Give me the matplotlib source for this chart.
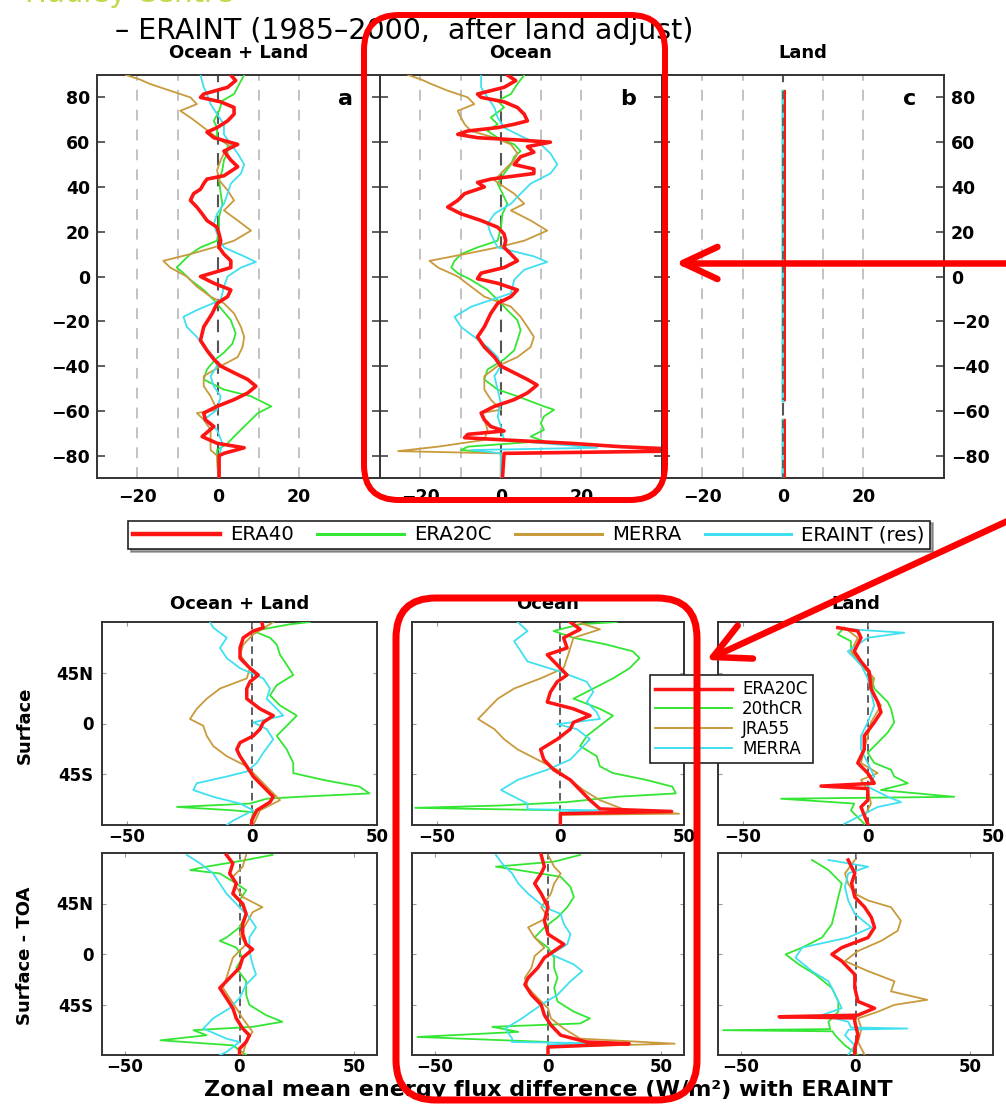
import numpy as np
import matplotlib
matplotlib.use("Agg")
import matplotlib.pyplot as plt
from matplotlib.lines import Line2D
from matplotlib.patches import FancyBboxPatch
from matplotlib.transforms import IdentityTransform

plt.rcParams['font.family'] = ['DejaVu Sans']

# ---------------- data: top row (ERA40, ERA20C, MERRA, ERAINT(res)) ----------------
TOP_XTICKS = [-20, 0, 20]
TOP_YTICKS = [-80, -60, -40, -20, 0, 20, 40, 60, 80]
TOP_GRID = [-20, -10, 10, 20]
TOP_LEGEND = ['ERA40', 'ERA20C', 'MERRA', 'ERAINT (res)']
TOP_TITLES = ['Ocean + Land', 'Ocean', 'Land']
PANEL_LETTERS = ['a', 'b', 'c']

A_ERA40_LAT = [90, 87.5, 84.5, 81.5, 80, 78, 75.5, 72.5, 69.5, 66.5, 64.5, 62, 59, 56, 52, 49, 45, 43.5, 41.5, 39,
               37, 34, 31, 28, 25, 22, 19, 16, 13, 10, 7, 4, 0, -3, -6, -9, -12, -16.5, -22.5, -28.5,
               -33, -37, -40, -43, -46, -49, -52, -55, -58, -61, -64, -67, -71.5, -74.5, -76.5, -79, -80, -90]
A_ERA40 = [3.1, 4.3, 2.3, -3.6, -4.4, 0.6, 3.9, 3.9, 2.3, -0.3, -2.8, -1.1, 4.8, 1.4, 3.1, 4.8, 1.4, -2.8, -3.6, -4.4,
           -6.1, -6.9, -5.3, -4.0, -2.8, -0.3, 0.2, 0.6, 0.2, 1.4, 3.1, 3.1, -4.4, -1.1, 3.1, 2.3, -0.3, -1.5, -3.6, -4.4,
           -2.8, -1.1, 0.6, 3.9, 7.3, 9.3, 7.3, 3.9, -0.3, -3.6, -3.2, -1.1, -4.0, -0.3, 6.4, 1.4, 0.2, 0.2]
A_ERA20C_LAT = [90, 86, 81.5, 78.5, 74, 69.5, 66.5, 62, 59, 55, 52, 47.5, 43, 37, 32.5, 26.5, 22, 16, 13, 10,
                7, 4, 1.5, -1.5, -6, -10.5, -15, -19.5, -25.5, -30, -34, -37, -41.5, -46, -50.5, -53.5, -58, -61, -64, -67,
                -71.5, -74.5, -77.5, -80, -90]
A_ERA20C = [6.4, 5.2, 3.9, 1.0, 0.2, -1.1, -0.3, -0.3, 2.3, 2.3, 1.4, 1.0, 0.2, 0.6, 1.0, 0.2, 0.2, -0.3, -4.4, -6.9,
            -8.6, -10.3, -8.6, -6.9, -3.6, -1.1, 1.0, 3.1, 4.3, 3.5, 1.4, -0.7, -2.8, -3.6, 1.4, 8.1, 13.1, 9.8, 8.1, 6.4,
            3.9, 2.3, -0.3, -0.3, 0.0]
A_MERRA_LAT = [90, 88, 86, 83, 80, 77, 74, 71, 66.5, 62, 58, 55, 52, 47.5, 43, 38.5, 34, 29.5, 25, 20.5,
               16, 13, 10, 7, 4, 0, -4.5, -9, -12, -16.5, -22.5, -27, -31.5, -36, -40, -44.5, -49, -53.5, -59.5, -61,
               -64, -68.5, -74.5, -77.5, -80, -90]
A_MERRA = [-22.8, -19.4, -16.9, -11.9, -6.9, -5.3, -9.4, -6.9, -3.6, -0.3, 3.1, 1.4, 0.6, -0.3, 0.2, 2.3, 3.9, 1.4, 4.8, 8.1,
           3.9, -1.1, -6.9, -13.6, -11.9, -7.8, -5.3, -1.9, 1.4, 3.9, 5.6, 6.4, 6.0, 4.8, 0.6, -3.6, -3.6, -1.9, -0.3, -5.3,
           -3.6, -1.9, -1.9, -1.9, -0.3, 0.0]
A_ERAINT_LAT = [90, 84.5, 81.5, 77, 72.5, 68, 63.5, 59, 55, 50, 46, 41.5, 37, 32.5, 28, 23.5, 19, 13, 9, 6.5,
                4, 0, -4.5, -10.5, -15, -18, -22.5, -27, -31.5, -36, -40, -44.5, -49, -53.5, -59.5, -64, -68.5, -74.5,
                -77.5, -80, -90]
A_ERAINT = [-4.4, -3.6, -2.8, -1.9, -0.3, 1.4, 1.4, 3.1, 4.8, 6.4, 5.6, 3.1, 2.3, 1.4, -0.3, -1.1, -0.3, 1.4, 6.4, 9.3,
            5.6, 2.3, 1.4, 0.6, -5.3, -8.6, -7.8, -5.3, -3.6, -1.1, -0.3, -1.9, -1.1, 0.6, -0.3, -3.6, -0.3, 1.0,
            0.6, 0.2, 0.0]

B_ERA40_LAT = [90, 87.5, 84.5, 81.5, 80, 78, 75.5, 72.5, 69.5, 68, 66.5, 65, 63.5, 62, 61, 60, 58, 55.5, 53.5, 50,
               48, 46, 43.5, 42, 40, 37, 34, 31, 28, 25, 22, 19, 16, 13, 10, 7, 4, 1.5, -1, -3,
               -6, -9, -12, -16.5, -22.5, -27, -31.5, -36, -40, -43, -46, -48.5, -52, -55, -58, -61, -64, -67, -69, -70.5,
               -72, -73, -74.5, -76, -77, -78, -79, -90]
B_ERA40 = [1.6, 3.7, 0.8, -5.8, -4.9, 0.8, 4.1, 5.8, 6.6, 3.3, -0.8, -8.2, -10.7, -5.8, 4.1, 12.3, 6.6, 8.2, 4.9, 3.3,
           8.2, 8.2, -2.5, -5.8, -4.1, -9.0, -10.7, -13.2, -9.9, -4.9, -0.8, 0.8, 1.2, 0.8, 2.5, 4.1, 0.8, -4.9, -5.8, -0.8,
           4.1, 2.5, -0.8, -2.5, -4.1, -5.8, -4.1, -1.6, 0.0, 3.3, 6.6, 9.0, 6.6, 3.3, -1.6, -4.9, -4.1, -2.5, 0.8, -8.2,
           -9.0, 0.8, 17.3, 29.6, 42.0, 42.0, 0.8, 0.4]
B_ERA20C_LAT = [90, 86, 81.5, 78.5, 75.5, 71, 68, 65, 62, 59, 56, 53.5, 50, 46, 41.5, 37, 32.5, 28, 22, 16,
                13, 10, 7, 4, 1.5, -1.5, -6, -10.5, -15, -19.5, -24, -28.5, -33, -37, -41.5, -46, -50.5, -53.5, -58, -59.5,
                -62.5, -65.5, -68.5, -71.5, -73.5, -76, -77.5, -79, -90]
B_ERA20C = [5.8, 4.1, 2.5, -0.8, 0.8, -2.5, -0.8, -3.3, -0.8, 3.3, 4.9, 3.3, 2.5, 0.8, -0.8, 0.4, 1.6, 0.4, 0.0, -0.8,
            -5.8, -9.9, -11.5, -12.3, -10.7, -7.4, -3.3, -0.8, 1.6, 4.1, 4.9, 4.1, 3.3, 0.8, -3.3, -4.1, -0.8, 4.1, 10.7, 13.2,
            10.7, 9.9, 10.7, 7.4, 10.7, -8.2, -9.9, 0.0, 0.0]
B_MERRA_LAT = [90, 88, 86, 83, 80, 77, 74, 71, 68, 65, 62, 59, 55, 52, 47.5, 43, 40, 37, 32.5, 29.5,
               25, 20.5, 16, 13, 10, 7, 4, 0, -4.5, -9, -13.5, -18, -22.5, -27, -31.5, -36, -40, -44.5, -50.5, -55,
               -59.5, -61, -64, -68.5, -73, -76, -78, -79, -90]
B_MERRA = [-23.0, -19.8, -17.3, -13.2, -8.2, -6.6, -10.7, -9.9, -9.0, -7.4, -1.6, 2.5, 4.1, 3.3, 0.8, -1.6, 0.8, 3.3, 5.8, 2.5,
           7.4, 11.5, 5.8, -0.8, -9.0, -17.7, -15.6, -10.7, -7.4, -4.1, 2.5, 4.9, 6.6, 8.2, 7.4, 4.1, -0.8, -4.1, -4.1, -2.5,
           0.0, -4.9, -4.1, -3.3, -4.1, -15.6, -25.5, 0.0, 0.0]
B_ERAINT_LAT = [90, 84.5, 80, 75.5, 71, 66.5, 62, 59, 55, 50, 46, 41.5, 37, 32.5, 28, 23.5, 19, 13, 9, 6.5,
                3, -1.5, -7.5, -13.5, -18, -22.5, -27, -31.5, -36, -40, -44.5, -50.5, -56.5, -62.5, -67, -73, -76.5,
                -77.5, -79, -90]
B_ERAINT = [-4.9, -4.9, -3.3, -1.6, -0.8, 0.8, 5.8, 9.9, 12.3, 14.0, 12.3, 7.4, 4.9, 2.5, -1.6, -3.3, -2.5, -0.8, 8.2, 11.5,
            5.8, 3.3, 2.5, -7.4, -11.5, -9.9, -6.6, -3.3, -0.8, 0.0, -1.6, -0.8, 0.0, -0.8, 0.0, 0.8, 23.9,
            -7.4, 0.0, 0.0]

C_LAT = [83, -55, np.nan, -64, -90]
C_ERA40 = [0.5, 0.5, np.nan, 0.5, 0.5]
C_ERA20C = [0.0, 0.0, np.nan, 0.0, 0.0]
C_MERRA = [0.0, 0.0, np.nan, 0.0, 0.0]
C_ERAINT = [0.0, 0.0, np.nan, 0.0, 0.0]

# ---------------- data: bottom rows (ERA20C, 20thCR, JRA55, MERRA) ----------------
BOT_LEGEND = ['ERA20C', '20thCR', 'JRA55', 'MERRA']
BOT_TITLES = ['Ocean + Land', 'Ocean', 'Land']
ROW_LABELS = ['Surface', 'Surface - TOA']
BOT_XTICKS = [-50, 0, 50]
BOT_YTICKS = [45, 0, -45]
BOT_YTICKLABELS = ['45N', '0', '45S']

S1_ERA20C_LAT = [90, 85, 82, 76, 67, 58, 49, 43, 37, 31, 22, 13, 7, 1, -5, -11, -17, -23, -29, -38, -47, -56, -65, -69.7, -77, -86, -90]
S1_ERA20C = [3.9, 4.5, 0.5, -3.5, -4.8, -4.8, -0.8, 2.5, -0.8, -2.1, -2.1, 3.2, 8.5, 4.5, 3.2, 0.5, -4.8, -6.1, -4.8, -2.1, 0.5, 4.5, 8.5, 7.2, 1.9, -0.1, -0.1]
S1_CR20_LAT = [90, 88, 82, 76, 70, 61, 52, 43, 34, 25, 16, 7, -2, -11, -23, -35, -44, -50, -56, -62, -65, -66.7, -71, -74, -77, -78.7, -90]
S1_CR20 = [23.2, 15.2, 0.5, 7.2, 9.9, 11.2, 13.9, 16.5, 9.9, 7.2, 11.2, 17.9, 13.9, 9.9, 13.9, 16.5, 16.5, 28.5, 43.0, 47.0, 19.0, 5.9, -0.8, -30.0, -7.5, 0.5, -0.8]
S1_JRA55_LAT = [90, 88, 79, 70, 61, 49, 40, 31, 22, 13, 4, -2, -11, -20, -29, -38, -47, -59, -68, -77, -90]
S1_JRA55 = [8.5, 7.2, 0.5, -3.5, -4.8, -0.8, -2.1, -12.8, -18.1, -22.1, -24.8, -19.5, -18.1, -15.5, -10.1, -2.1, 1.9, 7.2, 11.2, 3.2, 0.5]
S1_MERRA_LAT = [90, 85, 76, 67, 58, 49, 40, 31, 22, 13, 7, 1, -5, -14, -26, -35, -42.6, -47, -53, -59, -65, -71, -77, -86, -90]
S1_MERRA = [-16.8, -15.5, -10.1, -12.8, -10.1, -4.8, 4.5, 7.2, 5.9, 9.9, 12.5, 0.5, 5.9, 8.5, 4.5, 1.9, -2.1, -10.1, -22.1, -23.5, -15.5, -4.8, 0.5, -7.5, -10.1]

S2_ERA20C_LAT = [90, 83.5, 76, 67, 61, 52, 43, 37, 28, 19, 13, 7, 1, -5, -14, -23, -32, -41, -50, -59, -68, -75.7, -78, -80, -90]
S2_ERA20C = [4.0, 8.0, 1.3, 2.7, -5.3, -1.3, 2.7, -1.3, -4.0, -5.3, 5.3, 12.0, 5.3, 4.0, -1.3, -8.0, -6.7, -2.7, 4.0, 8.0, 12.0, 16.0, 45.0, 0.0, 0.0]
S2_CR20_LAT = [90, 88, 82, 76, 70, 64, 58, 49, 40, 31, 22, 13, 7, -2, -11, -20, -29, -38, -44, -50, -56, -62, -65, -69.7, -72.7, -74.8, -77, -90]
S2_CR20 = [22.7, 8.0, -2.7, 5.3, 18.7, 29.3, 32.0, 28.0, 21.3, 13.3, 5.3, 16.0, 21.3, 16.0, 10.7, 8.0, 14.7, 16.0, 21.3, 34.7, 45.3, 46.7, 22.7, 2.7, -24.0, -58.7, 0.0, 0.0]
S2_JRA55_LAT = [90, 83.5, 76, 67, 58, 49, 40, 31, 22, 13, 4, -5, -14, -23, -32, -41, -50, -59, -68, -77, -80, -81, -90]
S2_JRA55 = [6.7, 16.0, 5.3, 4.0, 2.7, 1.3, -8.0, -18.7, -25.3, -29.3, -33.3, -26.7, -22.7, -17.3, -9.3, -1.3, 4.0, 9.3, 16.0, 26.7, 48.0, 0.0, 0.0]
S2_MERRA_LAT = [90, 82, 73, 64, 55, 46, 37, 28, 19, 10, 4, -0.6, -5, -14, -23, -32, -41, -50, -59, -65, -71, -76, -77, -78.7, -90]
S2_MERRA = [-17.3, -13.3, -18.7, -16.0, -13.3, 0.0, 10.7, 13.3, 10.7, 14.7, 16.0, -1.3, 6.7, 12.0, 8.0, 4.0, -5.3, -17.3, -24.0, -18.7, -13.3, -13.3, 16.0, 0.0, 0.0]

S3_ERA20C_LAT = [85, 82, 76, 64, 55, 46, 31, 19, 10, 1, -11, -23, -35, -44, -53, -55.5, -57.7, -68, -74, -89]
S3_ERA20C = [-12.1, -4.1, -2.8, -5.5, -2.8, 0.5, 1.2, 3.9, 5.2, 2.5, -1.5, -1.5, -4.1, -0.1, 2.5, -18.8, -0.1, -0.1, -2.8, -0.1]
S3_CR20_LAT = [85, 79, 73, 64, 55, 43, 31, 19, 13, 1, -8, -17, -26, -35, -41, -47, -53, -59, -65, -66.7, -71, -77, -89]
S3_CR20 = [-9.5, -12.1, -6.8, -6.8, -4.1, 1.2, 2.5, 7.9, 9.2, 10.5, 7.9, 3.9, -0.1, 2.5, 9.2, 10.5, 15.9, 5.2, 34.5, -34.8, -5.5, -6.8, -1.5]
S3_JRA55_LAT = [85, 76, 64, 52, 40, 28, 16, 1, -11, -23, -35, -44, -50, -59, -71, -83, -89]
S3_JRA55 = [-9.5, -4.1, -6.8, -2.8, 2.5, 1.2, 5.2, 1.2, -0.1, -1.5, -2.8, 3.9, -2.8, -0.1, 1.2, -1.5, -0.1]
S3_MERRA_LAT = [83.5, 80.5, 76, 64, 52, 40, 28, 16, 1, -11, -23, -35, -47, -56, -65, -69.7, -74, -83, -89]
S3_MERRA = [-6.8, 14.5, -0.1, -8.1, -2.8, -0.1, 1.2, 2.5, -0.1, -2.8, -2.8, -0.1, 2.5, -0.1, 7.9, 13.2, 3.9, -4.1, -9.5]

T1_ERA20C_LAT = [88.3, 80.8, 71.8, 62.8, 53.8, 44.7, 35.7, 26.7, 17.7, 8.7, 4.2, -3.3, -12.3, -21.3, -30.3, -39.3, -48.3, -57.4, -66.4, -72.4, -78.4, -84.4, -90]
T1_ERA20C = [-5.7, -2.9, -4.3, -1.4, -2.9, 1.4, 2.9, 1.4, 1.4, 2.9, 5.7, 1.4, 0.0, -4.3, -8.6, -5.7, -2.9, -1.4, 1.4, 4.3, 2.9, 0.0, 0.0]
T1_CR20_LAT = [88.3, 83.8, 77.8, 74.8, 71.8, 62.8, 56.8, 47.7, 35.7, 23.7, 14.7, 11.7, 5.7, -3.3, -12.3, -24.3, -36.3, -45.3, -54.4, -60.4, -64.9, -67.9, -72.4, -76.9, -81.4, -90]
T1_CR20 = [14.4, 2.9, -14.4, -21.5, -8.6, -1.4, 2.9, 0.0, 2.9, 0.0, -5.7, -8.6, -1.4, 1.4, -1.4, 2.9, 2.9, 4.3, 11.5, 18.7, 5.7, -20.1, -14.4, -34.5, -2.9, 2.9]
T1_JRA55_LAT = [88.3, 77.8, 68.8, 59.8, 50.8, 41.7, 37.2, 26.7, 17.7, 8.7, -3.3, -12.3, -21.3, -30.3, -39.3, -48.3, -57.4, -69.4, -78.4, -90]
T1_JRA55 = [2.9, 1.4, -2.9, -1.4, 1.4, 10.0, 5.7, 2.9, 0.0, 2.9, -2.9, -4.3, -5.7, -7.2, -4.3, -1.4, 1.4, 5.7, 2.9, 1.4]
T1_MERRA_LAT = [88.3, 80.8, 71.8, 62.8, 53.8, 41.7, 32.7, 23.7, 14.7, 2.7, -9.3, -18.3, -27.3, -39.3, -48.3, -57.4, -66.4, -75.4, -78.4, -87.4, -90]
T1_MERRA = [-23.0, -17.2, -11.5, -8.6, -5.7, 0.0, 4.3, 7.2, 4.3, 4.3, 5.7, 7.2, 2.9, 0.0, -4.3, -11.5, -15.8, -5.7, 0.0, -5.7, -8.6]

T2_ERA20C_LAT = [88.3, 77.8, 71.8, 62.8, 53.8, 41.7, 29.7, 17.7, 8.7, 2.7, -3.3, -12.3, -21.3, -27.3, -36.3, -45.3, -54.4, -63.4, -72.4, -78.4, -79.9, -82.9, -90]
T2_ERA20C = [-3.0, -1.6, -3.0, -5.9, -3.0, 0.0, -1.6, 0.0, 7.0, 2.7, -1.6, -4.5, -8.8, -10.2, -7.3, -3.0, -1.6, 1.3, 5.6, 17.1, 35.8, 0.0, 0.0]
T2_CR20_LAT = [88.3, 82.3, 77.8, 74.8, 68.8, 59.8, 50.8, 41.7, 32.7, 23.7, 14.7, 5.7, -3.3, -12.3, -21.3, -30.3, -42.3, -51.4, -57.4, -61.9, -64.9, -69.4, -73.9, -78.4, -90]
T2_CR20 = [14.2, 2.7, -23.0, -13.1, 5.6, 9.9, 11.4, 8.5, 4.2, -1.6, -5.9, 0.0, 2.7, 2.7, 4.2, 2.7, 4.2, 11.4, 18.5, 14.2, -24.6, -13.1, -57.6, 0.0, 0.0]
T2_JRA55_LAT = [88.3, 77.8, 71.8, 62.8, 53.8, 41.7, 32.7, 23.7, 14.7, 5.7, -1.8, -12.3, -21.3, -30.3, -39.3, -48.3, -57.4, -66.4, -75.4, -79.9, -82.9, -90]
T2_JRA55 = [0.0, 2.7, 5.6, 2.7, 1.3, -3.0, 0.0, -8.8, -5.9, -1.6, -5.9, -7.3, -10.2, -8.8, -4.5, 0.0, 1.3, 7.0, 14.2, 55.9, 0.0, 0.0]
T2_MERRA_LAT = [88.3, 80.8, 71.8, 62.8, 53.8, 41.7, 35.7, 26.7, 17.7, 8.7, -0.3, -9.3, -15.3, -24.3, -36.3, -45.3, -57.4, -66.4, -75.4, -78.4, -79.5, -81, -90]
T2_MERRA = [-23.0, -20.3, -15.8, -13.1, -8.8, -1.6, 5.6, 7.0, 9.9, 8.5, 1.3, 11.4, 15.1, 9.9, 4.2, -3.0, -11.5, -18.8, -15.8, -16.0, 20.0, 0.0, 0.0]

T3_ERA20C_LAT = [83.8, 71.8, 62.8, 50.8, 41.7, 32.7, 23.7, 14.7, 5.7, -0.3, -6.3, -18.3, -30.3, -42.3, -48.3, -54.5, -55.9, -57.0, -60.4, -72.4, -84.4, -90]
T3_ERA20C = [-3.2, -0.3, -1.7, -0.3, 4.0, 6.9, 8.3, 5.5, -6.0, -10.3, -6.0, -0.3, -0.3, 1.1, 8.3, 1.1, -33.3, -0.3, -0.3, 1.1, -0.3, -0.3]
T3_CR20_LAT = [83.8, 74.8, 62.8, 50.8, 38.7, 26.7, 14.7, 5.7, -0.3, -9.3, -18.3, -30.3, -42.3, -51.4, -60.4, -66.9, -67.9, -68.9, -72.4, -81.4, -90]
T3_CR20 = [-19.0, -11.8, -6.0, -7.5, -8.9, -10.3, -14.6, -23.3, -30.5, -24.7, -17.5, -10.3, -7.5, -7.5, -11.8, -11.0, -57.8, -10.0, -8.9, -4.6, 1.1]
T3_JRA55_LAT = [83.8, 71.8, 62.8, 53.8, 47.7, 41.7, 29.7, 20.7, 11.7, 2.7, -6.3, -15.3, -24.3, -33.3, -40.8, -45.3, -51.4, -57.4, -66.4, -78.4, -90]
T3_JRA55 = [-0.3, -4.6, -3.2, -0.3, 5.5, 15.5, 19.8, 18.4, 11.2, 1.1, -4.6, 5.5, 17.0, 15.5, 31.3, 17.0, 9.8, 1.1, 2.6, 1.1, 4.0]
T3_MERRA_LAT = [83.8, 77.8, 71.8, 59.8, 47.7, 35.7, 23.7, 14.7, 5.7, -3.3, -15.3, -24.3, -36.3, -48.3, -54.4, -60.4, -65.4, -66.4, -67.4, -72.4, -81.4, -90]
T3_MERRA = [-11.8, 5.5, -3.2, -4.6, -3.2, -0.3, 6.9, -3.2, -23.3, -26.2, -19.0, -11.8, -8.9, -6.0, -14.6, -3.2, -2.0, 22.7, -3.0, -4.6, -0.3, -3.2]

# ---------------- styling ----------------
RED, GREEN, TAN, CYAN = '#ff1414', '#33e633', '#c99a3c', '#40e0f0'
W, H = 1006, 1104
fig = plt.figure(figsize=(W / 100, H / 100), dpi=100)
fig.patch.set_facecolor('white')


def add_ax(x0, y0, x1, y1):
    return fig.add_axes([x0 / W, 1 - y1 / H, (x1 - x0) / W, (y1 - y0) / H])


def ftxt(x, y, s, **kw):
    return fig.text(x / W, 1 - y / H, s, **kw)


def spines(ax):
    for sp in ax.spines.values():
        sp.set_color('#333333')
        sp.set_linewidth(1.4)


def bold_labels(ax):
    for lab in ax.get_xticklabels() + ax.get_yticklabels():
        lab.set_fontweight('bold')


# ---------------- top row ----------------
top_boxes = [(97, 75, 380, 478), (380, 75, 662, 478), (662, 75, 944, 478)]
top_data = [
    [(A_ERA20C_LAT, A_ERA20C), (A_MERRA_LAT, A_MERRA), (A_ERAINT_LAT, A_ERAINT), (A_ERA40_LAT, A_ERA40)],
    [(B_ERA20C_LAT, B_ERA20C), (B_MERRA_LAT, B_MERRA), (B_ERAINT_LAT, B_ERAINT), (B_ERA40_LAT, B_ERA40)],
    [(C_LAT, C_ERA20C), (C_LAT, C_MERRA), (C_LAT, C_ERAINT), (C_LAT, C_ERA40)],
]
top_styles = [(GREEN, 1.3), (TAN, 1.3), (CYAN, 1.3), (RED, 2.6)]
land_styles = [(GREEN, 2.4), (TAN, 2.4), (CYAN, 2.4), (RED, 1.4)]

for i, (box, series) in enumerate(zip(top_boxes, top_data)):
    ax = add_ax(*box)
    ax.set_xlim(-30, 40)
    ax.set_ylim(-90, 90)
    for g in TOP_GRID:
        ax.axvline(g, color='#bdbdbd', lw=1.3, dashes=(6, 5), zorder=1)
    ax.axvline(0, color='#555555', lw=1.5, dashes=(6, 4), zorder=1)
    styles = top_styles if i < 2 else land_styles
    for (lat, val), (c, lw) in zip(series, styles):
        ax.plot(val, lat, color=c, lw=lw, zorder=3)
    if i == 2:
        ax.plot(C_ERAINT, C_LAT, color='#555555', lw=1.2, dashes=(5, 3), zorder=4)
    ax.set_xticks(TOP_XTICKS)
    ax.set_yticks(TOP_YTICKS)
    ax.tick_params(axis='y', direction='in', length=6, width=1.1, color='#333333',
                   left=True, right=True, labelleft=(i == 0), labelright=(i == 2),
                   labelsize=12.5, pad=5)
    ax.tick_params(axis='x', direction='in', length=0, labelsize=12.5, pad=7)
    bold_labels(ax)
    spines(ax)
    ax.text(0.878, 0.94, PANEL_LETTERS[i], transform=ax.transAxes, fontsize=16,
            fontweight='bold', ha='center', va='center')
    ftxt((box[0] + box[2]) / 2, 53, TOP_TITLES[i], ha='center', va='center',
         fontsize=13, fontweight='bold')

ftxt(115, 31, '– ERAINT (1985–2000,  after land adjust)', ha='left', va='center', fontsize=20.5)
fig.text(25 / W, 1 - 2 / H, 'Hadley Centre', color='#c3d94a', fontsize=21, va='baseline', ha='left')

top_handles = [Line2D([], [], color=RED, lw=3.2), Line2D([], [], color=GREEN, lw=2.2),
               Line2D([], [], color=TAN, lw=2.2), Line2D([], [], color=CYAN, lw=2.2)]
leg1 = fig.legend(top_handles, TOP_LEGEND, loc='center', bbox_to_anchor=(529 / W, 1 - 535 / H),
                  ncol=4, fontsize=14.2, frameon=True, fancybox=False, shadow=True,
                  edgecolor='#222222', handlelength=4.4, handletextpad=0.5, columnspacing=1.2,
                  borderpad=0.25, borderaxespad=0)
leg1.get_frame().set_linewidth(1.2)

# ---------------- bottom rows ----------------
cols = [(102, 377), (412, 684), (718, 993)]
rows = [(622, 825, (-60, 50)), (853, 1055, (-60, 60))]
bottom_data = [
    [[(S1_CR20_LAT, S1_CR20), (S1_JRA55_LAT, S1_JRA55), (S1_MERRA_LAT, S1_MERRA), (S1_ERA20C_LAT, S1_ERA20C)],
     [(S2_CR20_LAT, S2_CR20), (S2_JRA55_LAT, S2_JRA55), (S2_MERRA_LAT, S2_MERRA), (S2_ERA20C_LAT, S2_ERA20C)],
     [(S3_CR20_LAT, S3_CR20), (S3_JRA55_LAT, S3_JRA55), (S3_MERRA_LAT, S3_MERRA), (S3_ERA20C_LAT, S3_ERA20C)]],
    [[(T1_CR20_LAT, T1_CR20), (T1_JRA55_LAT, T1_JRA55), (T1_MERRA_LAT, T1_MERRA), (T1_ERA20C_LAT, T1_ERA20C)],
     [(T2_CR20_LAT, T2_CR20), (T2_JRA55_LAT, T2_JRA55), (T2_MERRA_LAT, T2_MERRA), (T2_ERA20C_LAT, T2_ERA20C)],
     [(T3_CR20_LAT, T3_CR20), (T3_JRA55_LAT, T3_JRA55), (T3_MERRA_LAT, T3_MERRA), (T3_ERA20C_LAT, T3_ERA20C)]],
]
bot_styles = [(GREEN, 1.3), (TAN, 1.3), (CYAN, 1.3), (RED, 2.5)]

for r, (y0, y1, xlim) in enumerate(rows):
    for c, (x0, x1) in enumerate(cols):
        ax = add_ax(x0, y0, x1, y1)
        ax.set_xlim(*xlim)
        ax.set_ylim(-90, 90)
        ax.axvline(0, color='#333333', lw=1.1, dashes=(5, 3), zorder=1)
        for (lat, val), (col, lw) in zip(bottom_data[r][c], bot_styles):
            ax.plot(val, lat, color=col, lw=lw, zorder=3)
        ax.set_xticks(BOT_XTICKS)
        ax.set_yticks(BOT_YTICKS)
        ax.set_yticklabels(BOT_YTICKLABELS)
        ax.tick_params(axis='y', direction='in', length=3, width=0.8, color='#999999',
                       left=True, right=True, labelleft=(c == 0), labelsize=12, pad=6)
        ax.tick_params(axis='x', direction='in', length=3, width=0.8, color='#999999',
                       top=True, labelsize=12, pad=2)
        bold_labels(ax)
        spines(ax)
        if r == 0:
            ftxt((x0 + x1) / 2, 604, BOT_TITLES[c], ha='center', va='center',
                 fontsize=13, fontweight='bold')
    ftxt(25, (y0 + y1) / 2 + 2, ROW_LABELS[r], rotation=90, ha='center', va='center',
         fontsize=13, fontweight='bold')

ftxt(548, 1090, 'Zonal mean energy flux difference (W/m²) with ERAINT', ha='center', va='center',
     fontsize=16, fontweight='bold')

bot_handles = [Line2D([], [], color=RED, lw=2.5), Line2D([], [], color=GREEN, lw=1.4),
               Line2D([], [], color=TAN, lw=1.4), Line2D([], [], color=CYAN, lw=1.4)]
leg2 = fig.legend(bot_handles, BOT_LEGEND, loc='center', bbox_to_anchor=(731.5 / W, 1 - 719 / H),
                  fontsize=12, frameon=True, fancybox=False, edgecolor='#222222',
                  handlelength=4.6, labelspacing=0.1, borderpad=0.35, handletextpad=0.6,
                  borderaxespad=0, framealpha=1)
leg2.get_frame().set_linewidth(1.2)

# ---------------- red annotation overlays ----------------
def red_box(x0, y0, x1, y1, rad, lw_px):
    p = FancyBboxPatch((x0, H - y1), x1 - x0, y1 - y0,
                       boxstyle=f"round,pad=0,rounding_size={rad}",
                       transform=IdentityTransform(), fill=False, ec='#ff0000',
                       lw=lw_px * 0.72, zorder=30)
    fig.add_artist(p)


def red_arrow(xs, ys, xt, yt, head_len, ang_deg, lw_px):
    sx, sy, tx, ty = xs, H - ys, xt, H - yt
    d = np.array([sx - tx, sy - ty], dtype=float)
    d /= np.hypot(*d)
    legs = []
    for s in (1, -1):
        a = np.deg2rad(s * ang_deg)
        rot = np.array([[np.cos(a), -np.sin(a)], [np.sin(a), np.cos(a)]])
        legs.append(np.array([tx, ty]) + head_len * rot @ d)
    kw = dict(color='#ff0000', lw=lw_px * 0.72, solid_capstyle='round', solid_joinstyle='round',
              transform=IdentityTransform(), zorder=30)
    fig.add_artist(Line2D([sx, tx], [sy, ty], **kw))
    fig.add_artist(Line2D([legs[0][0], tx, legs[1][0]], [legs[0][1], ty, legs[1][1]], **kw))


red_box(364, 15, 665, 500, 35, 6)
red_box(396, 598, 697, 1100, 40, 7)
red_arrow(1012, 263, 683, 263, 38, 25, 6.5)
red_arrow(1012, 519, 713, 657, 40, 27, 6.5)

fig.savefig('out.png', dpi=100, facecolor='white')
